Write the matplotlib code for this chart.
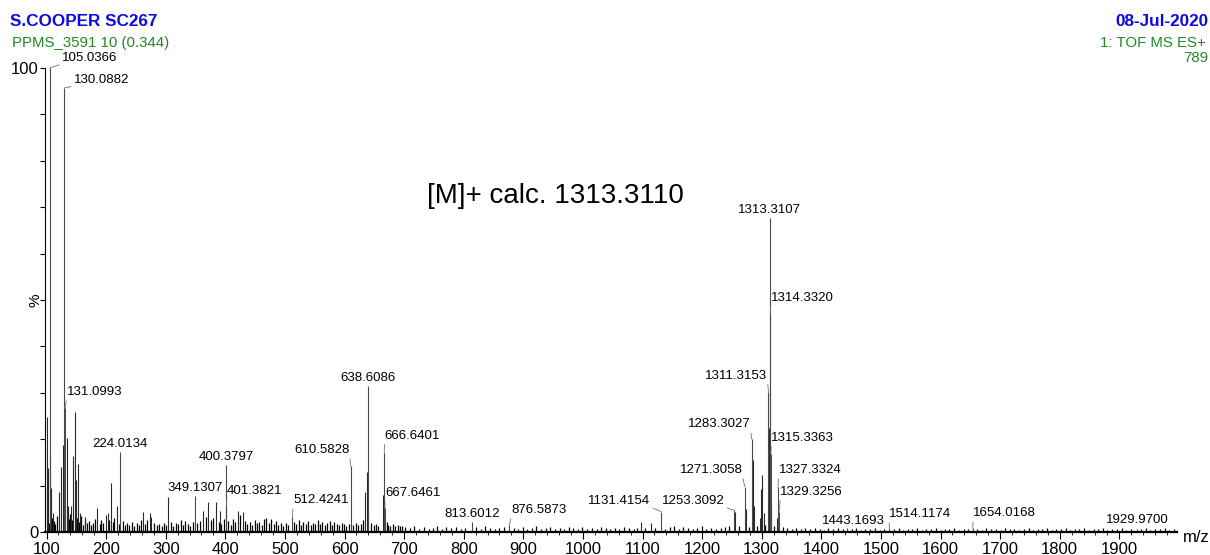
import matplotlib.pyplot as plt
from matplotlib.ticker import MultipleLocator

plt.rcParams['font.family'] = ['Liberation Sans', 'DejaVu Sans']

# labelled peaks (m/z, relative intensity %)
peak_mz = [105.0366, 130.0882, 131.0993, 224.0134, 349.1307, 400.3797, 401.3821,
           512.4241, 610.5828, 638.6086, 666.6401, 667.6461, 813.6012, 876.5873,
           1131.4154, 1253.3092, 1271.3058, 1283.3027, 1311.3153, 1313.3107,
           1314.3320, 1315.3363, 1327.3324, 1329.3256, 1443.1693, 1514.1174,
           1654.0168, 1929.9700]
peak_int = [100.0, 95.7, 26.8, 17.3, 7.8, 14.4, 5.4, 3.2, 14.2, 31.5, 17.3, 5.1,
            2.2, 1.5, 4.4, 4.7, 9.8, 20.0, 30.2, 67.7, 47.0, 16.8, 9.6, 4.4,
            0.9, 0.8, 0.8, 0.7]

# other visible peaks without a label
minor_mz = [101.3, 102.5, 106.2, 107.5, 110.5, 121.5, 123.8, 127.2, 133.9, 135.5,
            141.0, 145.0, 147.3, 149.0, 152.3, 156.0, 165.0, 185.3, 199.8, 202.6,
            208.2, 218.3, 261.4, 273.7, 276.0, 304.4, 363.0, 371.5, 384.4, 391.0,
            421.8, 429.2, 634.4, 637.2, 640.0, 664.1, 1097.0, 1113.8, 1255.3,
            1273.3, 1285.3, 1287.3, 1297.3, 1299.3, 1301.3, 1303.3, 1312.3,
            1316.3, 1325.3]
minor_int = [24.8, 13.8, 16.6, 9.5, 4.0, 8.7, 14.0, 18.8, 20.2, 5.5,
             5.5, 16.4, 25.9, 11.2, 14.7, 4.0, 3.3, 5.2, 3.7, 4.2,
             10.5, 5.6, 4.4, 4.0, 3.3, 7.5, 4.6, 6.5, 6.5, 4.5,
             4.5, 4.4, 8.7, 13.0, 4.0, 8.0, 2.2, 2.0, 4.4,
             5.0, 15.5, 5.6, 3.0, 9.3, 12.3, 4.0, 22.4,
             5.0, 3.0]

# baseline noise
grass_low = [(104, 2.0), (109, 3.1), (112, 2.4), (115, 1.8), (118, 3.5), (137, 2.9),
             (139, 3.8), (143, 2.6), (151, 3.0), (155, 2.2), (158, 3.4), (161, 1.6),
             (164, 2.7), (168, 1.9), (171, 2.3), (175, 1.5), (178, 2.0), (181, 2.8),
             (189, 1.7), (192, 2.5), (195, 1.9), (205, 2.6), (211, 2.1), (214, 3.0),
             (221, 1.8), (228, 2.4), (231, 1.5), (235, 2.0), (239, 1.6), (243, 2.2),
             (247, 1.4), (251, 1.9), (255, 1.6), (258, 2.5), (265, 1.8), (269, 2.6),
             (281, 2.0), (285, 1.5), (289, 1.7), (293, 1.3), (297, 1.9), (301, 1.6),
             (309, 2.2), (313, 1.4), (317, 2.0), (321, 1.7), (325, 2.6), (329, 1.5),
             (333, 2.3), (337, 1.8), (341, 1.4), (345, 2.1), (353, 1.9), (357, 2.4),
             (367, 3.2), (376, 2.5), (380, 3.0), (389, 2.2), (393, 1.8), (397, 2.7),
             (405, 2.3), (409, 1.6), (413, 2.9), (417, 2.1), (425, 3.6), (433, 2.4),
             (437, 1.7), (441, 2.2), (445, 1.5), (449, 2.6), (453, 1.9), (457, 2.1),
             (461, 1.6), (465, 2.8), (469, 3.1), (473, 2.0), (477, 2.7), (481, 1.8),
             (485, 2.3), (489, 1.6), (493, 2.0), (497, 1.4), (501, 1.9), (505, 1.6),
             (515, 2.2), (519, 1.7), (523, 2.5), (527, 1.5), (531, 2.1), (535, 1.8),
             (539, 2.4), (543, 1.6), (547, 2.0), (551, 1.7), (555, 2.6), (559, 1.8),
             (563, 2.2), (567, 1.5), (571, 1.9), (575, 2.3), (579, 1.6), (583, 2.1),
             (587, 1.8), (591, 1.5), (595, 2.0), (599, 1.7), (603, 1.4), (607, 1.8),
             (615, 1.6), (619, 2.0), (623, 1.5), (627, 1.8), (631, 2.6), (645, 1.9),
             (649, 1.5), (653, 1.7), (657, 1.4), (671, 2.2), (673, 1.6), (677, 1.4),
             (681, 1.8), (685, 1.3), (689, 1.5), (693, 1.2), (697, 1.4)]
grass_high = [(702, 1.1), (710, 0.8), (717, 1.2), (725, 0.7), (733, 1.0), (741, 0.6),
              (748, 0.9), (756, 1.3), (764, 0.7), (771, 1.0), (779, 0.8), (787, 1.1),
              (795, 0.6), (802, 0.9), (821, 1.0), (829, 0.7), (836, 1.2), (844, 0.8),
              (852, 0.6), (860, 0.9), (867, 1.1), (884, 0.8), (891, 0.6), (899, 1.0),
              (907, 0.7), (914, 0.9), (922, 1.2), (930, 0.6), (938, 0.8), (945, 1.0),
              (953, 0.7), (961, 0.9), (969, 0.6), (976, 1.1), (984, 0.8), (992, 0.7),
              (999, 1.0), (1007, 0.6), (1015, 0.9), (1023, 0.7), (1030, 1.1), (1038, 0.8),
              (1046, 0.6), (1054, 0.9), (1061, 0.7), (1069, 1.0), (1077, 0.8), (1085, 0.6),
              (1091, 0.9), (1105, 0.8), (1121, 0.9), (1138, 0.7), (1146, 1.0), (1153, 1.2),
              (1161, 0.7), (1168, 1.1), (1176, 0.8), (1184, 0.6), (1192, 0.9), (1200, 1.2),
              (1207, 0.7), (1215, 0.9), (1223, 0.6), (1231, 0.8), (1238, 1.0), (1245, 1.4),
              (1262, 1.2), (1279, 1.0), (1292, 1.3), (1306, 1.5), (1320, 1.4), (1335, 1.0),
              (1342, 0.8), (1350, 0.6), (1358, 0.9), (1366, 0.7), (1373, 0.8), (1381, 0.6),
              (1389, 0.9), (1397, 0.7), (1404, 0.5), (1412, 0.8), (1420, 0.6), (1428, 0.9),
              (1436, 0.7), (1451, 0.6), (1459, 0.8), (1467, 0.5), (1474, 0.7), (1482, 0.6),
              (1490, 0.8), (1498, 0.5), (1506, 0.7), (1522, 0.6), (1530, 0.8), (1537, 0.5),
              (1545, 0.7), (1553, 0.6), (1561, 0.8), (1569, 0.5), (1576, 0.7), (1584, 0.6),
              (1592, 0.8), (1600, 0.5), (1607, 0.7), (1615, 0.6), (1623, 0.8), (1631, 0.5),
              (1639, 0.7), (1646, 0.6), (1662, 0.7), (1670, 0.5), (1677, 0.8), (1685, 0.6),
              (1693, 0.7), (1701, 0.5), (1709, 0.8), (1716, 0.6), (1724, 0.7), (1732, 0.5),
              (1740, 0.6), (1748, 0.8), (1755, 0.5), (1763, 0.7), (1771, 0.6), (1779, 0.8),
              (1787, 0.5), (1794, 0.7), (1802, 0.6), (1810, 0.8), (1818, 0.5), (1826, 0.7),
              (1833, 0.6), (1841, 0.9), (1849, 0.5), (1857, 0.7), (1865, 0.6), (1872, 0.8),
              (1880, 0.5), (1888, 0.7), (1896, 0.6), (1904, 0.8), (1911, 0.5), (1919, 0.7),
              (1937, 0.6), (1945, 0.8), (1952, 0.5), (1960, 0.7), (1968, 0.6), (1976, 0.8),
              (1984, 0.5), (1991, 0.6)]

x_ticks = list(range(100, 2000, 100))

# label placement, pixel offset of the text centre from the peak top
label_offsets = [(40, 10), (37, 8), (29.5, 15.6), (0, 8), (0, 8), (1, 8), (28.7, 16),
                 (28.6, 17), (-29, 16), (0, 8), (28, 16), (28, 15), (0, 8), (29.5, 15),
                 (-42, 10.6), (-40.7, 9), (-33.4, 16.5), (-32.6, 15), (-32, 16), (0, 8),
                 (32, 16), (32, 16), (32, 17.5), (32.6, 19.6), (6, 7), (31, 14),
                 (32, 15), (0, 9)]

W, H = 1210, 555
fig = plt.figure(figsize=(W / 100, H / 100), dpi=100)
ax = fig.add_axes([44.5 / W, (H - 532) / H, (1177 - 44.5) / W, (532 - 68) / H])

grass = grass_low + grass_high
ax.vlines([g[0] for g in grass], 0, [g[1] for g in grass], color='black', lw=0.9)
ax.vlines(minor_mz, 0, minor_int, color='#2a2a2a', lw=0.8)
ax.vlines(peak_mz, 0, peak_int, color='#4a4a4a', lw=0.8)

for mz, inten, (dx, dy) in zip(peak_mz, peak_int, label_offsets):
    arrow = None
    if abs(dx) > 10:
        arrow = dict(arrowstyle='-', color='#707070', lw=0.6, shrinkA=0, shrinkB=0,
                     relpos=(0, 0) if dx > 0 else (1, 0))
    ax.annotate(f'{mz:.4f}', xy=(mz, inten), xytext=(dx, dy), textcoords='offset pixels',
                ha='center', va='center', fontsize=9.5, color='black',
                arrowprops=arrow, annotation_clip=False)

ax.set_xlim(96.6, 1996.8)
ax.set_ylim(0, 100)
ax.set_xticks(x_ticks)
ax.xaxis.set_minor_locator(MultipleLocator(20))
ax.set_yticks(range(0, 101, 10))
ax.set_yticklabels(['0'] + [''] * 9 + ['100'])
ax.tick_params(axis='x', which='major', direction='out', length=5, width=0.8,
               labelsize=12, pad=2)
ax.tick_params(axis='x', which='minor', direction='out', length=2.5, width=0.6)
ax.tick_params(axis='y', direction='out', length=3.5, width=0.8, labelsize=12, pad=1)
for side in ('top', 'right'):
    ax.spines[side].set_visible(False)
ax.spines['left'].set_linewidth(0.8)
ax.spines['bottom'].set_linewidth(1.6)

fig.text(35 / W, 1 - 300 / H, '%', fontsize=11, rotation=90, ha='center', va='center')
fig.text(1183 / W, 1 - 537 / H, 'm/z', fontsize=12, va='center')

fig.text(555 / W, 1 - 196 / H, '[M]+ calc. 1313.3110', fontsize=20, ha='center', va='center')

blue, green = '#0a0ae6', '#238a23'
fig.text(10 / W, 1 - 22 / H, 'S.COOPER SC267', fontsize=12.3, fontweight='bold',
         color=blue, va='center')
fig.text(12 / W, 1 - 43 / H, 'PPMS_3591 10 (0.344)', fontsize=10.8, color=green,
         va='center')
fig.text(1208 / W, 1 - 22 / H, '08-Jul-2020', fontsize=12.3, fontweight='bold',
         color=blue, ha='right', va='center')
fig.text(1100 / W, 1 - 43 / H, '1: TOF MS ES+', fontsize=10.8, color=green, va='center')
fig.text(1208 / W, 1 - 58 / H, '789', fontsize=10.8, color=green, ha='right', va='center')

fig.savefig('out.png', dpi=100)
